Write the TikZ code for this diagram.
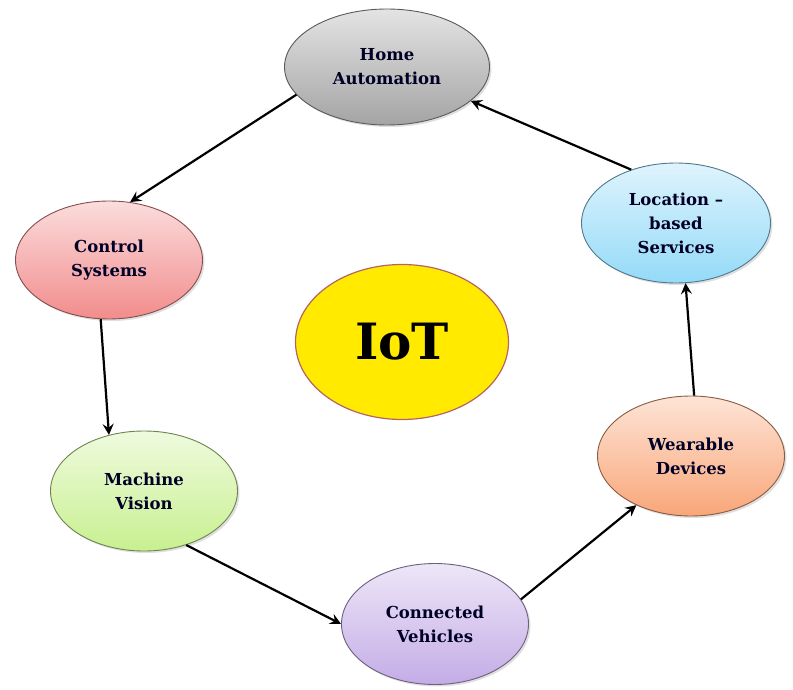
\documentclass[tikz,border=0pt]{standalone}
\usepackage{fontspec}
\setmainfont{DejaVu Serif}
\usetikzlibrary{arrows.meta,shadows,shapes.geometric}
\tikzset{
  topic/.style={ellipse,draw=#1!55!black,line width=0.9pt,minimum width=187pt,minimum height=118pt,
    top color=#1!30,bottom color=#1,drop shadow={opacity=0.25,shadow xshift=2pt,shadow yshift=-2pt},
    align=center,font=\fontsize{16.5}{24}\selectfont\bfseries,text=black!85!blue,inner sep=0pt},
  flow/.style={line width=2.2pt,-{Stealth[length=11pt,width=11pt,inset=4pt]}}
}
\definecolor{homegray}{HTML}{A4A4A4}
\definecolor{ctrlred}{HTML}{F28C8C}
\definecolor{visgreen}{HTML}{C8F090}
\definecolor{vehpurple}{HTML}{C4ACE6}
\definecolor{wearorange}{HTML}{F9A678}
\definecolor{locblue}{HTML}{94DAF8}
\begin{document}
\begin{tikzpicture}[x=1pt,y=-1pt]
\useasboundingbox (0,0) rectangle (793,690);
% the ring of applications
\node[topic=homegray,minimum width=205pt,minimum height=116pt] (home) at (387,67) {Home\\Automation};
\node[topic=ctrlred] (ctrl) at (109,260) {Control\\Systems};
\node[topic=visgreen,minimum height=120pt] (vision) at (144,491) {Machine\\Vision};
\node[topic=vehpurple,minimum height=121pt] (vehicles) at (435,624) {Connected\\Vehicles};
\node[topic=wearorange,minimum height=120pt] (wear) at (691,456) {Wearable\\Devices};
\node[topic=locblue,minimum width=189pt,minimum height=120pt] (loc) at (676,223) {Location --\\based\\Services};
% centre
\node[ellipse,draw={rgb,255:red,180;green,100;blue,100},line width=1.2pt,fill={rgb,255:red,255;green,234;blue,0},minimum width=213pt,minimum height=155pt,
  font=\fontsize{50}{56}\selectfont\bfseries] (iot) at (402,342) {IoT};
% arrows
\draw[flow] (home.197) -- (ctrl.70);
\draw[flow] (ctrl.262) -- (vision.122);
\draw[flow] (vision.308) -- (vehicles.180);
\draw[flow] (vehicles.16) -- (wear.222);
\draw[flow] (wear.87) -- (loc.279);
\draw[flow] (loc.130) -- (home.338);
\end{tikzpicture}
\end{document}
